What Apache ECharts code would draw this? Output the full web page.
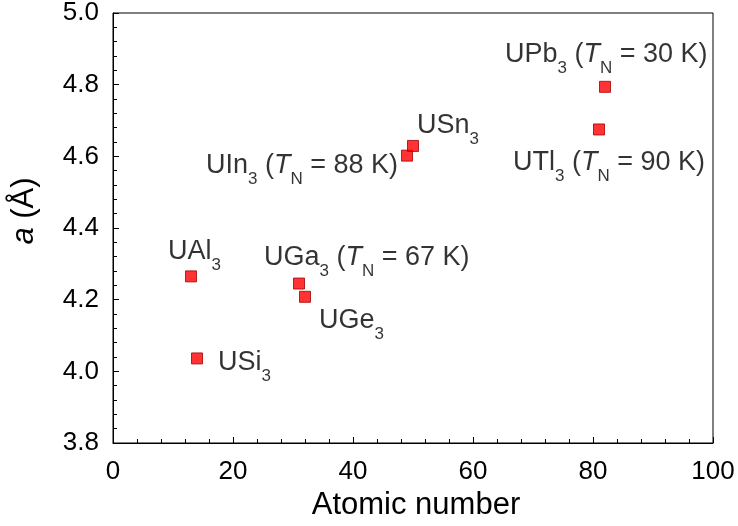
<!DOCTYPE html>
<html>
<head>
<meta charset="utf-8">
<script src="https://cdn.jsdelivr.net/npm/echarts@6/dist/echarts.min.js"></script>
<style>
  html, body { margin: 0; padding: 0; background: #fff; }
  #chart { width: 738px; height: 526px; }
</style>
</head>
<body>
<div id="chart"></div>
<script>
// UX3 compounds: partner element, its atomic number, lattice constant a (Å), Néel temperature (K)
const elements = ['Al', 'Si', 'Ga', 'Ge', 'In', 'Sn', 'Tl', 'Pb'];
const atomicNumbers = [13, 14, 31, 32, 49, 50, 81, 82];
const latticeA = [4.265, 4.036, 4.245, 4.208, 4.602, 4.629, 4.675, 4.794];
const neelT = [null, null, 67, null, 88, null, 90, 30];

const xTicks = { min: 0, max: 100, step: 20 };
const yTicks = { min: 3.8, max: 5.0, step: 0.2 };

// label placement relative to each marker centre (px): left edge of text, middle of capitals
const labelOffsets = [
  [-23, -25], [21, 4], [-35, -26], [14, 24],
  [-201, 10], [4, -20], [-86, 33], [-100, -32]
];

const FONT = 'Liberation Sans, Arial, sans-serif';

function labelText(i) {
  let s = '{m|U' + elements[i] + '}{s|3}';
  if (neelT[i] !== null) {
    s += '{m| (}{i|T}{s|N}{m| = ' + neelT[i] + ' K)}';
  }
  return s;
}

const points = atomicNumbers.map((z, i) => ({
  value: [z, latticeA[i]],
  label: { offset: labelOffsets[i] }
}));

const chart = echarts.init(document.getElementById('chart'), null, { renderer: 'canvas' });

chart.setOption({
  animation: false,
  backgroundColor: '#ffffff',
  grid: {
    left: 113, right: 25, top: 12, bottom: 83,
    show: true, borderColor: '#000', borderWidth: 1, backgroundColor: 'transparent'
  },
  xAxis: {
    type: 'value',
    min: xTicks.min, max: xTicks.max, interval: xTicks.step,
    name: 'Atomic number',
    nameLocation: 'middle',
    nameGap: 46,
    nameTextStyle: { fontFamily: FONT, fontSize: 31, color: '#000', padding: [0, 0, 0, 6] },
    axisLine: { show: true, lineStyle: { color: '#000', width: 1 } },
    axisTick: { show: true, inside: true, length: 6, lineStyle: { color: '#000' } },
    minorTick: { show: true, splitNumber: 5, length: 4, lineStyle: { color: '#000' } },
    splitLine: { show: false },
    axisLabel: { fontFamily: FONT, fontSize: 26, color: '#000', margin: 16 }
  },
  yAxis: {
    type: 'value',
    min: yTicks.min, max: yTicks.max, interval: yTicks.step,
    name: '{i|a} (Å)',
    nameLocation: 'middle',
    nameGap: 73,
    nameTextStyle: {
      fontFamily: FONT, fontSize: 31, color: '#000',
      padding: [0, 0, 0, 34],
      rich: {
        i: { fontFamily: FONT, fontSize: 31, fontStyle: 'italic', color: '#000' }
      }
    },
    axisLine: { show: true, lineStyle: { color: '#000', width: 1 } },
    axisTick: { show: true, inside: true, length: 6, lineStyle: { color: '#000' } },
    minorTick: { show: true, splitNumber: 5, length: 4, lineStyle: { color: '#000' } },
    splitLine: { show: false },
    axisLabel: {
      fontFamily: FONT, fontSize: 26, color: '#000', margin: 14,
      formatter: v => v.toFixed(1)
    }
  },
  series: [{
    type: 'scatter',
    symbol: 'rect',
    symbolSize: 11,
    itemStyle: { color: '#ff0000', borderColor: '#a00000', borderWidth: 1 },
    data: points,
    label: {
      show: true,
      position: 'inside',
      align: 'left',
      verticalAlign: 'middle',
      color: '#000',
      textBorderWidth: 0,
      formatter: p => labelText(p.dataIndex),
      rich: {
        m: { fontFamily: FONT, fontSize: 27, color: '#000', lineHeight: 30 },
        i: { fontFamily: FONT, fontSize: 27, fontStyle: 'italic', color: '#000', lineHeight: 30 },
        s: { fontFamily: FONT, fontSize: 17, color: '#000', lineHeight: 17, padding: [27, 0, 0, 0] }
      }
    },
    emphasis: { disabled: true }
  }]
});
</script>
</body>
</html>
